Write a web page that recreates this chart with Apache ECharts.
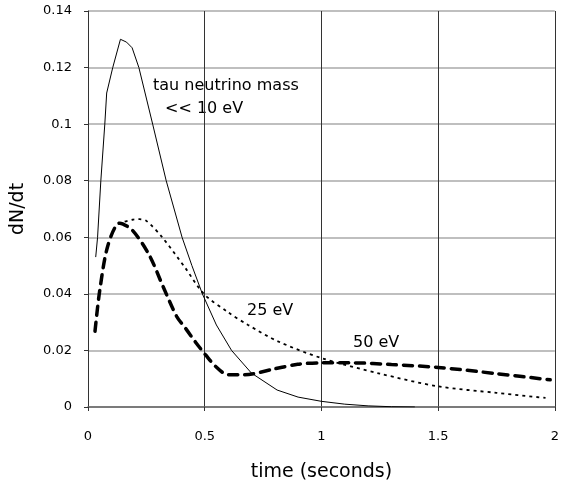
<!DOCTYPE html>
<html>
<head>
<meta charset="utf-8">
<script src="https://cdn.jsdelivr.net/npm/echarts@6/dist/echarts.min.js"></script>
<style>html,body{margin:0;padding:0;background:#fff}#c{width:562px;height:487px}</style>
</head>
<body>
<div id="c"></div>
<script>
// tau neutrino mass << 10 eV (solid)
const massless = [
  [0.033, 0.053], [0.041, 0.060], [0.055, 0.080], [0.072, 0.100], [0.08, 0.111],
  [0.106, 0.120], [0.139, 0.130], [0.165, 0.129], [0.189, 0.127], [0.218, 0.120],
  [0.277, 0.100], [0.335, 0.080], [0.403, 0.060], [0.445, 0.050], [0.49, 0.040],
  [0.55, 0.029], [0.615, 0.020], [0.70, 0.012], [0.81, 0.006], [0.90, 0.0035],
  [1.0, 0.002], [1.1, 0.001], [1.2, 0.0004], [1.3, 0.0001], [1.4, 0.0]
];
// 25 eV (dotted)
const ev25 = [
  [0.157, 0.0655], [0.19, 0.0662], [0.22, 0.0664], [0.25, 0.0658], [0.318, 0.060],
  [0.418, 0.049], [0.496, 0.040], [0.60, 0.0335], [0.686, 0.029], [0.814, 0.0232],
  [1.0, 0.0173], [1.25, 0.0118], [1.5, 0.0073], [1.75, 0.0050], [1.96, 0.0032]
];
// 50 eV (heavy dashed)
const ev50 = [
  [0.03, 0.0268], [0.05, 0.041], [0.085, 0.057], [0.136, 0.065], [0.19, 0.0625],
  [0.263, 0.0536], [0.322, 0.0425], [0.38, 0.032], [0.418, 0.0278], [0.46, 0.023],
  [0.504, 0.0184], [0.546, 0.0144], [0.60, 0.0114], [0.67, 0.0114], [0.80, 0.0135],
  [0.898, 0.0151], [1.0, 0.0156], [1.14, 0.0156], [1.3, 0.0150], [1.5, 0.0140],
  [1.75, 0.0118], [1.98, 0.0096]
];
const xTicks = [0, 0.5, 1, 1.5, 2];
const yTicks = [0, 0.02, 0.04, 0.06, 0.08, 0.1, 0.12, 0.14];
const labels = ['tau neutrino mass', '<< 10 eV', '25 eV', '50 eV'];

const font = 'DejaVu Sans';
const chart = echarts.init(document.getElementById('c'), null, {renderer: 'canvas'});
chart.setOption({
  animation: false,
  backgroundColor: '#fff',
  grid: {left: 88, right: 2, top: 11, bottom: 78, containLabel: false, show: false},
  xAxis: {
    type: 'value', min: xTicks[0], max: xTicks[xTicks.length - 1], interval: 0.5,
    name: 'time (seconds)', nameLocation: 'middle', nameGap: 56,
    nameTextStyle: {fontFamily: font, fontSize: 19, color: '#000'},
    axisLine: {show: true, onZero: false, lineStyle: {color: '#666', width: 1.5}},
    axisTick: {show: true, length: 4, lineStyle: {color: '#333'}},
    axisLabel: {fontFamily: font, fontSize: 13, color: '#000', margin: 23,
      formatter: v => xTicks.includes(v) ? String(v) : ''},
    splitLine: {show: true, lineStyle: {color: '#333', width: 1}}
  },
  yAxis: {
    type: 'value', min: yTicks[0], max: yTicks[yTicks.length - 1], interval: 0.02,
    name: 'dN/dt', nameLocation: 'middle', nameGap: 60,
    nameTextStyle: {fontFamily: font, fontSize: 19, color: '#000'},
    axisLine: {show: true, lineStyle: {color: '#333', width: 1}},
    axisTick: {show: true, length: 4, lineStyle: {color: '#333'}},
    axisLabel: {fontFamily: font, fontSize: 13, color: '#000', margin: 16,
      formatter: v => { const t = yTicks.find(y => Math.abs(y - v) < 1e-9); return t === undefined ? '' : String(t); }},
    splitLine: {show: true, lineStyle: {color: '#aaa', width: 1.5}}
  },
  series: [
    {type: 'line', data: massless, symbol: 'none', smooth: false,
      lineStyle: {color: '#000', width: 1}},
    {type: 'line', data: ev25, symbol: 'none', smooth: 0.3,
      lineStyle: {color: '#000', width: 1.8, type: [3, 4]}},
    {type: 'line', data: ev50, symbol: 'none', smooth: 0.3,
      lineStyle: {color: '#000', width: 3.5, type: [9, 7], cap: 'round'}}
  ],
  graphic: [
    {type: 'text', left: 153, top: 78, style: {text: labels[0], font: '16px ' + font, fill: '#000'}},
    {type: 'text', left: 165, top: 101, style: {text: labels[1], font: '16px ' + font, fill: '#000'}},
    {type: 'text', left: 247, top: 303, style: {text: labels[2], font: '16px ' + font, fill: '#000'}},
    {type: 'text', left: 353, top: 335, style: {text: labels[3], font: '16px ' + font, fill: '#000'}}
  ]
});
</script>
</body>
</html>
